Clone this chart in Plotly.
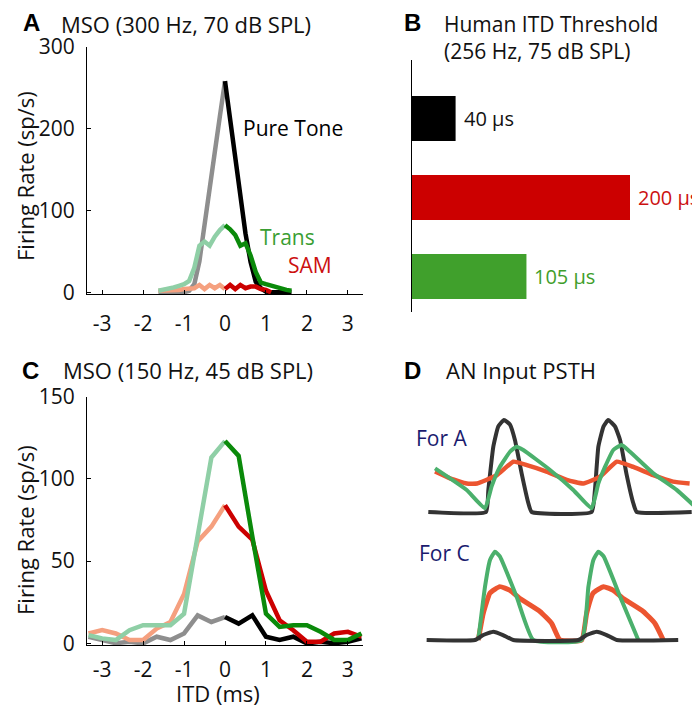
import plotly.graph_objects as go

# ---------------- data ----------------
# Panel A: MSO (300 Hz, 70 dB SPL) -- ITD (ms) vs firing rate (sp/s)
ITD_A = [-1.625, -1.5, -1.375, -1.25, -1.125, -1.0, -0.875, -0.75, -0.625, -0.5, -0.375, -0.25, -0.125, 0.0,
         0.125, 0.25, 0.375, 0.5, 0.625, 0.75, 0.875, 1.0, 1.125, 1.25, 1.375, 1.5, 1.625]
PURE_A = [0, 0, 0, 0, 0, 0, 2, 10, 38, 85, 128, 171, 215, 258,
          211, 165, 118, 72, 37, 13, 5, 1, 0, 0, 0, 0, 0]
TRANS_A = [2, 3, 4, 6, 8, 10, 14, 30, 57, 62, 57, 68, 76, 82,
           77, 70, 57, 60, 45, 25, 12, 10, 8, 6, 4, 3, 2]
SAM_A = [2, 2, 3, 3, 3, 4, 4, 5, 9, 4, 9, 5, 9, 4,
         9, 4, 9, 5, 7, 7, 4, 3, 0, None, None, None, None]

# Panel C: MSO (150 Hz, 45 dB SPL)
ITD_C = [-3.333, -3.0, -2.667, -2.333, -2.0, -1.667, -1.333, -1.0, -0.667, -0.333, 0.0,
         0.333, 0.667, 1.0, 1.333, 1.667, 2.0, 2.333, 2.667, 3.0, 3.333]
PURE_C = [4, 2, 0, 1, 0, 4, 2, 6, 17, 13, 16, 12, 17, 4, 2, 4, 0, 1, 0, 1, 3]
TRANS_C = [5, 3, 2, 8, 11, 11, 11, 18, 65, 113, 123, 114, 65, 18, 10, 11, 11, 7, 2, 2, 6]
SAM_C = [6, 8, 6, 2, 2, 9, 13, 30, 62, 71, 84, 71, 63, 32, 14, 8, 1, 1, 6, 7, 4]

ITD_TICKS = [-3, -2, -1, 0, 1, 2, 3]
ITD_TICK_LABELS = ["-3", "-2", "-1", "0", "1", "2", "3"]
RATE_TICKS_A = [0, 100, 200, 300]
RATE_TICKS_C = [0, 50, 100, 150]

# Panel B: human ITD thresholds (µs)
B_CONDITIONS = ["Pure Tone", "SAM", "Trans"]
B_THRESHOLDS = [40, 200, 105]
B_LABELS = ["40 µs", "200 µs", "105 µs"]

# Panel D: AN input PSTH (phase in cycles, normalised rate)
DA_PURE_T = [0.08, 0.636, 0.659, 0.707, 0.755, 0.81, 0.868, 0.916, 0.98, 1.045, 1.077,
             1.655, 1.687, 1.72, 1.77, 1.815, 1.88, 1.93, 1.99, 2.057, 2.09, 2.62]
DA_PURE_Y = [0, 0, 0.24, 0.71, 0.93, 1.0, 0.95, 0.78, 0.42, 0.095, 0,
             0, 0.24, 0.71, 0.93, 1.0, 0.93, 0.78, 0.42, 0.095, 0, 0]
DA_TRANS_T = [0.145, 0.29, 0.45, 0.627, 0.69, 0.77, 0.868, 0.93, 0.996, 1.254, 1.478, 1.655,
              1.72, 1.784, 1.864, 1.945, 2.025, 2.25, 2.475, 2.635]
DA_TRANS_Y = [0.475, 0.366, 0.24, 0.04, 0.275, 0.49, 0.655, 0.71, 0.674, 0.457, 0.24, 0.04,
              0.31, 0.49, 0.674, 0.728, 0.655, 0.42, 0.24, 0.076]
DA_SAM_T = [0.145, 0.29, 0.45, 0.55, 0.74, 0.9, 1.03, 1.22, 1.415, 1.575,
            1.736, 1.897, 2.057, 2.25, 2.44, 2.6]
DA_SAM_Y = [0.44, 0.366, 0.31, 0.31, 0.40, 0.547, 0.51, 0.44, 0.35, 0.31,
            0.384, 0.547, 0.49, 0.40, 0.33, 0.31]

DC_PURE_T = [0.064, 0.53, 0.61, 0.707, 0.80, 0.9, 1.527, 1.607, 1.704, 1.80, 1.897, 2.49]
DC_PURE_Y = [0, 0, 0.054, 0.09, 0.054, 0, 0, 0.054, 0.09, 0.054, 0, 0]
DC_TRANS_T = [0.562, 0.627, 0.675, 0.723, 0.77, 0.932, 1.093, 1.559, 1.624, 1.672, 1.72, 1.77, 1.93, 2.105]
DC_TRANS_Y = [0, 0.58, 0.87, 0.96, 0.91, 0.47, 0, 0, 0.58, 0.87, 0.96, 0.91, 0.47, 0]
DC_SAM_T = [0.562, 0.61, 0.675, 0.77, 0.868, 0.964, 1.157, 1.27, 1.35, 1.559,
            1.607, 1.67, 1.77, 1.864, 1.96, 2.153, 2.266, 2.346]
DC_SAM_Y = [0, 0.29, 0.51, 0.58, 0.54, 0.45, 0.31, 0.18, 0.0, 0.0,
            0.29, 0.51, 0.58, 0.54, 0.45, 0.31, 0.18, 0.0]

# ---------------- styles ----------------
W, H = 700, 709
PAGE_OFFSET = 8  # default body margin of the html page
FONT = "Open Sans"
BOLD_FONT = "Liberation Sans"
BLACK = "#000000"
GRAY = "#8e8e8e"
DGREEN = "#0a8a0a"
LGREEN = "#8fcfa6"
DRED = "#cc0000"
LRED = "#f5a07f"
BAR_COLORS = ["#000000", "#cc0000", "#40a02c"]
D_PURE = "#333333"
D_GREEN = "#4bb06c"
D_RED = "#ec5530"
NAVY = "#1b1b6e"
LW = 4.5
D_PX_PER_CYCLE = 103.7


def fx(p):
    return (p - PAGE_OFFSET) / W


def fy(p):
    return 1 - (p - PAGE_OFFSET) / H


fig = go.Figure()


def split_trace(x, y, light, dark, xa, ya):
    neg_x = [a for a in x if a <= 0]
    neg_y = [b for a, b in zip(x, y) if a <= 0]
    pos_x = [a for a in x if a >= 0]
    pos_y = [b for a, b in zip(x, y) if a >= 0]
    fig.add_trace(go.Scatter(x=neg_x, y=neg_y, mode="lines", line=dict(color=light, width=LW),
                             xaxis=xa, yaxis=ya, showlegend=False, hoverinfo="skip"))
    fig.add_trace(go.Scatter(x=pos_x, y=pos_y, mode="lines", line=dict(color=dark, width=LW),
                             xaxis=xa, yaxis=ya, showlegend=False, hoverinfo="skip"))


split_trace(ITD_A, PURE_A, GRAY, BLACK, "x", "y")
split_trace(ITD_A, SAM_A, LRED, DRED, "x", "y")
split_trace(ITD_A, TRANS_A, LGREEN, DGREEN, "x", "y")
split_trace(ITD_C, PURE_C, GRAY, BLACK, "x3", "y3")
split_trace(ITD_C, SAM_C, LRED, DRED, "x3", "y3")
split_trace(ITD_C, TRANS_C, LGREEN, DGREEN, "x3", "y3")

fig.add_trace(go.Bar(x=B_THRESHOLDS, y=list(range(len(B_THRESHOLDS))), orientation="h",
                     marker=dict(color=BAR_COLORS, line=dict(width=0)), width=0.57,
                     xaxis="x2", yaxis="y2", showlegend=False, hoverinfo="skip"))

for t, yv, c, w in [(DA_PURE_T, DA_PURE_Y, D_PURE, 4), (DA_SAM_T, DA_SAM_Y, D_RED, 4.5),
                    (DA_TRANS_T, DA_TRANS_Y, D_GREEN, 4)]:
    fig.add_trace(go.Scatter(x=t, y=yv, mode="lines", line=dict(color=c, width=w, shape="spline", smoothing=0.4),
                             xaxis="x4", yaxis="y4", showlegend=False, hoverinfo="skip"))
for t, yv, c, w in [(DC_SAM_T, DC_SAM_Y, D_RED, 5), (DC_TRANS_T, DC_TRANS_Y, D_GREEN, 4),
                    (DC_PURE_T, DC_PURE_Y, D_PURE, 4)]:
    fig.add_trace(go.Scatter(x=t, y=yv, mode="lines", line=dict(color=c, width=w, shape="spline", smoothing=0.4),
                             xaxis="x5", yaxis="y5", showlegend=False, hoverinfo="skip"))

tickfont = dict(family=FONT, size=21, color="#111111")
common_x = dict(range=[-3.37, 3.37], tickvals=ITD_TICKS, ticktext=ITD_TICK_LABELS, ticks="inside",
                ticklen=4, tickcolor=BLACK, showline=True, linecolor=BLACK, linewidth=1,
                showgrid=False, zeroline=False, tickfont=tickfont, fixedrange=True)
common_y = dict(ticks="inside", ticklen=4, tickcolor=BLACK, showline=True, linecolor=BLACK, linewidth=1,
                showgrid=False, zeroline=False, tickfont=tickfont, ticklabelstandoff=7)

d_range = [0, (W + PAGE_OFFSET - 420) / D_PX_PER_CYCLE]

fig.update_layout(
    width=W, height=H, margin=dict(l=0, r=0, t=0, b=0, autoexpand=False),
    paper_bgcolor="white", plot_bgcolor="white",
    font=dict(family=FONT, color="#111111"),
    xaxis=dict(domain=[fx(87), fx(363)], anchor="y", ticklabelstandoff=10, **common_x),
    yaxis=dict(domain=[fy(294.4), fy(46.7)], range=[-2.5, 300], tickvals=RATE_TICKS_A, anchor="x", **common_y),
    xaxis3=dict(domain=[fx(87), fx(363)], anchor="y3", ticklabelstandoff=5, **common_x),
    yaxis3=dict(domain=[fy(645.3), fy(396.7)], range=[-1.2, 150], tickvals=RATE_TICKS_C, anchor="x3", **common_y),
    xaxis2=dict(domain=[fx(412), fx(684.5)], range=[0, 250], visible=False, anchor="y2", fixedrange=True),
    yaxis2=dict(domain=[fy(312), fy(60)], range=[2.449, -0.74], showline=True, linecolor=BLACK, linewidth=1,
                ticks="", showticklabels=False, showgrid=False, zeroline=False, anchor="x2"),
    xaxis4=dict(domain=[fx(420), 1.0], range=d_range, visible=False, anchor="y4"),
    yaxis4=dict(domain=[fy(525.8), fy(406.2)], range=[-0.15, 1.15], visible=False, anchor="x4"),
    xaxis5=dict(domain=[fx(420), 1.0], range=d_range, visible=False, anchor="y5"),
    yaxis5=dict(domain=[fy(653.8), fy(534.2)], range=[-0.15, 1.15], visible=False, anchor="x5"),
)

ann = []


def text(x, y, s, size=21, color="#111111", xanchor="left", family=FONT, bold=False, angle=0):
    ann.append(dict(x=fx(x), y=fy(y), xref="paper", yref="paper", text=("<b>%s</b>" % s) if bold else s,
                    showarrow=False, xanchor=xanchor, yanchor="middle", textangle=angle, borderpad=0,
                    align="left", font=dict(family=family, size=size, color=color)))


text(22, 23, "A", size=24, color=BLACK, family=BOLD_FONT, bold=True)
text(60, 24, "MSO (300 Hz, 70 dB SPL)", size=22)
text(403, 23, "B", size=24, color=BLACK, family=BOLD_FONT, bold=True)
text(443, 37, "Human ITD Threshold<br>(256 Hz, 75 dB SPL)", size=21)
text(21, 370, "C", size=24, color=BLACK, family=BOLD_FONT, bold=True)
text(62, 370, "MSO (150 Hz, 45 dB SPL)", size=22)
text(403, 370, "D", size=24, color=BLACK, family=BOLD_FONT, bold=True)
text(445, 370, "AN Input PSTH", size=22)
text(25, 176, "Firing Rate (sp/s)", size=22, xanchor="center", angle=-90)
text(25, 530, "Firing Rate (sp/s)", size=22, xanchor="center", angle=-90)
text(218, 693, "ITD (ms)", size=22, xanchor="center")
text(242, 128, "Pure Tone", size=21, color=BLACK)
text(259, 237, "Trans", size=21, color="#3a9e33")
text(287, 265, "SAM", size=21, color="#cc1010")
text(415, 438, "For A", size=21, color=NAVY)
text(418, 553, "For C", size=21, color=NAVY)
fig.update_layout(annotations=ann)

label_colors = ["#111111", "#cc1010", "#3f9e2b"]
for i, (v, lab) in enumerate(zip(B_THRESHOLDS, B_LABELS)):
    fig.add_annotation(x=v, y=i, xref="x2", yref="y2", text=lab, showarrow=False, xanchor="left",
                       yanchor="middle", xshift=6, font=dict(family=FONT, size=20, color=label_colors[i]))

fig.write_html("out.html")
